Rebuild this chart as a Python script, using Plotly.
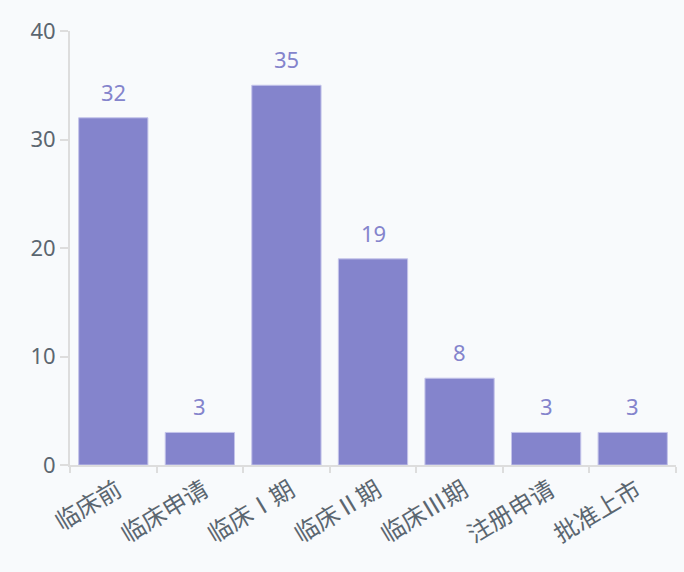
import plotly.graph_objects as go

categories = ["临床前", "临床申请", "临床Ⅰ期", "临床Ⅱ期", "临床Ⅲ期", "注册申请", "批准上市"]
values = [32, 3, 35, 19, 8, 3, 3]
y_ticks = [0, 10, 20, 30, 40]

bar_color = "#8484cc"
bg = "#f8fafc"
font_family = "Noto Sans, Noto Sans CJK SC, sans-serif"
cjk_family = "Noto Sans CJK SC, Noto Sans, sans-serif"
text_color = "#5b6670"

fig = go.Figure(go.Bar(
    x=categories, y=values,
    marker=dict(color=bar_color, line=dict(color="#c4c4ea", width=1)),
    width=0.8,
))

for c, v in zip(categories, values):
    fig.add_annotation(
        x=c, y=v, text=str(v), showarrow=False,
        yanchor="bottom", yshift=9,
        font=dict(color=bar_color, size=22, family=font_family),
    )

fig.update_layout(
    width=684, height=572,
    paper_bgcolor=bg, plot_bgcolor=bg,
    margin=dict(l=70, r=8, t=31, b=107),
    font=dict(family=font_family, color=text_color),
    showlegend=False,
)
fig.update_xaxes(
    showline=True, linecolor="#dddddd", linewidth=2,
    ticks="outside", tickson="boundaries", ticklen=6, tickcolor="#dddddd", tickwidth=2,
    tickangle=-31, tickfont=dict(size=24, color=text_color, family=cjk_family),
    ticklabelshift=4,
    showgrid=False,
)
fig.update_yaxes(
    range=[0, 40], tickvals=y_ticks,
    showline=True, linecolor="#dddddd", linewidth=2,
    ticks="outside", ticklen=8, tickcolor="#dddddd", tickwidth=2,
    tickfont=dict(size=22, color=text_color),
    showgrid=False, zeroline=False,
)

fig.write_html(
    "out.html",
    config={"displayModeBar": False},
    post_script="document.body.style.margin='0';document.body.style.background='%s';" % bg,
)
